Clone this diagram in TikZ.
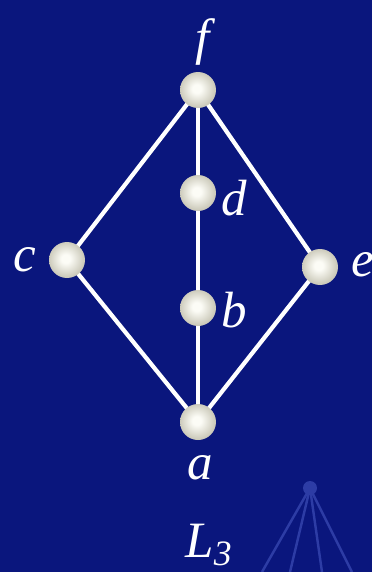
\documentclass[tikz,border=0pt]{standalone}
\usepackage{fontspec}
\setmainfont{Liberation Serif}
\definecolor{slidebg}{RGB}{10,22,125}
\definecolor{pearlhi}{RGB}{252,252,246}
\definecolor{pearlmid}{RGB}{205,203,188}
\definecolor{pearlrim}{RGB}{135,133,118}
\definecolor{glow}{RGB}{45,60,165}
\pgfdeclareradialshading{pearlball}{\pgfpoint{-2bp}{2bp}}{%
  color(0bp)=(pearlhi); color(6bp)=(pearlhi); color(24bp)=(pearlmid);
  color(40bp)=(pearlmid!70!pearlrim); color(50bp)=(pearlrim); color(60bp)=(pearlrim)}

\begin{document}
\begin{tikzpicture}[x=0.02cm,y=-0.02cm,
    ball/.style={circle, inner sep=0pt, minimum size=0.72cm, shading=pearlball},
    lbl/.style={text=white, font=\fontsize{29}{30}\selectfont\itshape},
    edge/.style={white, line width=2.4pt}]
        % Background
        \fill[slidebg] (0,0) rectangle (372,572);
        \useasboundingbox (0,0) rectangle (372,572);

        % Faint decoration at bottom right
        \fill[glow] (310,488) circle (7);
        \foreach \x in {262,290,322,352}
            \draw[glow, line width=1.4pt] (310,488) -- (\x,572);

        % Covering relations
        \coordinate (F) at (198,90);
        \coordinate (D) at (198,193);
        \coordinate (C) at (67,260);
        \coordinate (E) at (320,267);
        \coordinate (B) at (198,308);
        \coordinate (A) at (198,422);
        \draw[edge] (F) -- (C) -- (A) -- (E) -- cycle;
        \draw[edge] (F) -- (D) -- (B) -- (A);

        % Elements of the lattice
        \node[ball] (f) at (F) {};
        \node[ball] (d) at (D) {};
        \node[ball] (c) at (C) {};
        \node[ball] (e) at (E) {};
        \node[ball] (b) at (B) {};
        \node[ball] (a) at (A) {};

        % Labels
        \node[lbl] (lf) at (203,42) {f};
        \node[lbl] (ld) at (234,198) {d};
        \node[lbl] (lc) at (25,260) {c};
        \node[lbl] (le) at (363,265) {e};
        \node[lbl] (lb) at (234,310) {b};
        \node[lbl] (la) at (200,468) {a};
        \node[lbl] (lL) at (209,545) {L\textsubscript{3}};
\end{tikzpicture}
\end{document}
